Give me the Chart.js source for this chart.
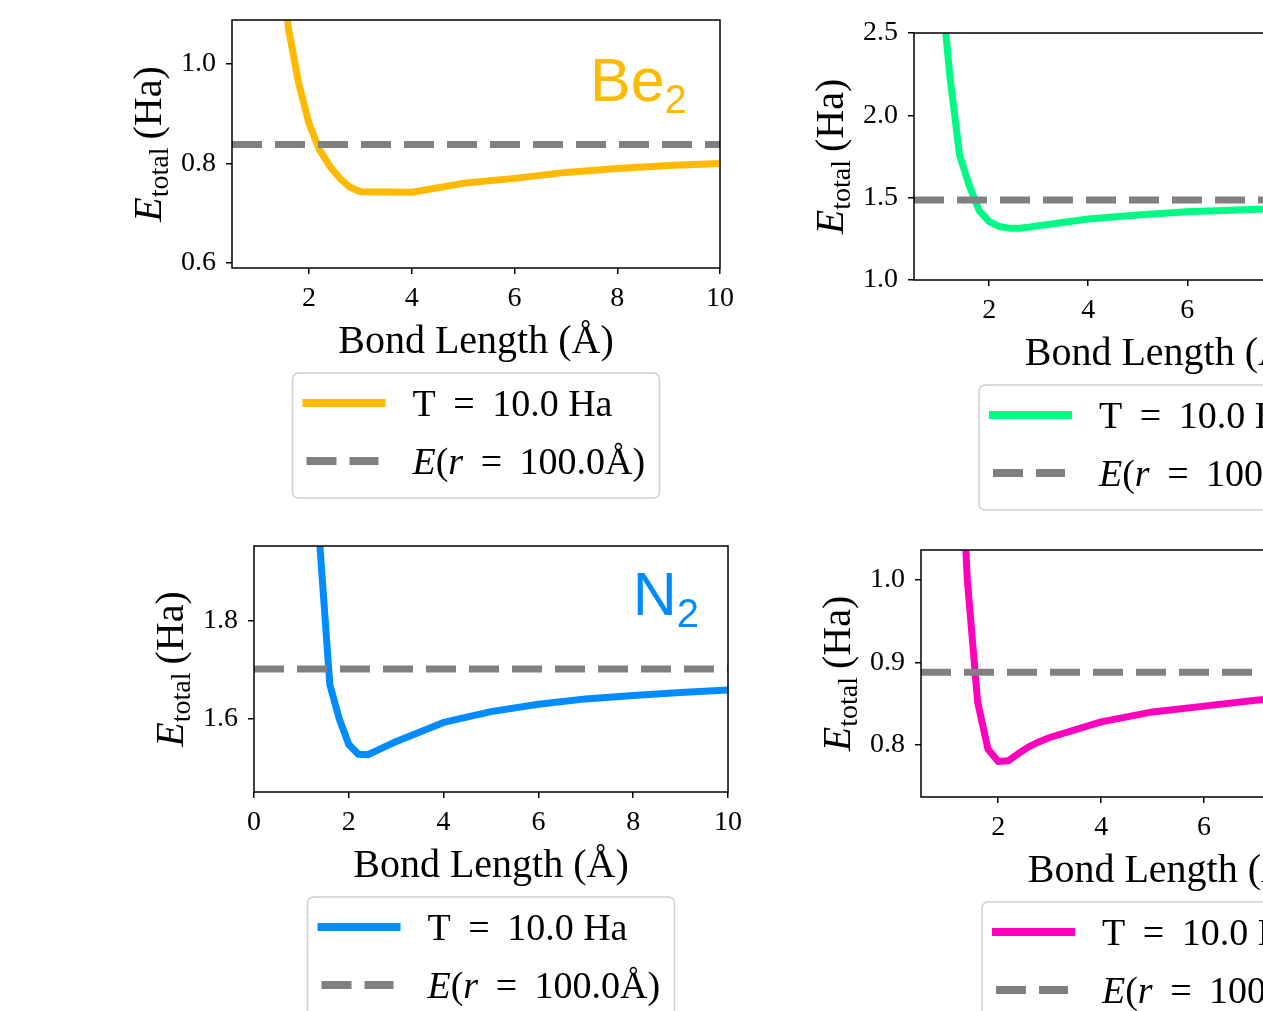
<!DOCTYPE html>
<html>
<head>
<meta charset="utf-8">
<script src="https://cdn.jsdelivr.net/npm/chart.js@4.4.1/dist/chart.umd.min.js"></script>
<style>
  html, body { margin: 0; padding: 0; background: #fff; overflow: hidden; }
  #page { position: relative; width: 1263px; height: 1011px; overflow: hidden; }
  canvas { position: absolute; }
</style>
</head>
<body>
<div id="page">
  <canvas id="be2" width="760" height="515" style="left:0;top:-10px"></canvas>
  <canvas id="green" width="780" height="520" style="left:700px;top:0"></canvas>
  <canvas id="n2" width="760" height="501" style="left:0;top:510px"></canvas>
  <canvas id="pink" width="780" height="501" style="left:700px;top:510px"></canvas>
</div>
<script>
// bond lengths (Angstrom), shared by all four molecules
const bondLengths = [1.0, 1.2, 1.4, 1.6, 1.8, 2.0, 2.2, 2.4, 2.6, 2.8, 3.0, 4, 5, 6, 7, 8, 9, 10];

// total energies (Ha) at T = 10.0 Ha
const be2Energy   = [1.75, 1.45, 1.30, 1.07, 0.96, 0.88, 0.828, 0.795, 0.770, 0.752, 0.743, 0.742, 0.760, 0.770, 0.782, 0.790, 0.796, 0.800];
const greenEnergy = [2.90, 2.25, 1.76, 1.57, 1.42, 1.355, 1.325, 1.315, 1.314, 1.320, 1.330, 1.370, 1.395, 1.415, 1.425, 1.435, 1.440, 1.445];
const n2Energy    = [2.60, 2.30, 1.94, 1.67, 1.60, 1.548, 1.528, 1.527, 1.536, 1.545, 1.554, 1.593, 1.615, 1.630, 1.641, 1.648, 1.654, 1.659];
const pinkEnergy  = [1.50, 1.25, 1.00, 0.852, 0.795, 0.780, 0.781, 0.790, 0.798, 0.804, 0.809, 0.828, 0.840, 0.847, 0.854, 0.859, 0.863, 0.866];

// E(r = 100.0 A) reference levels
const be2Ref = 0.838;
const greenRef = 1.486;
const n2Ref = 1.702;
const pinkRef = 0.888;

// tick labels
const be2XTicks = [2, 4, 6, 8, 10];
const be2YTicks = [0.6, 0.8, 1.0];
const greenXTicks = [2, 4, 6, 8, 10];
const greenYTicks = [1.0, 1.5, 2.0, 2.5];
const n2XTicks = [0, 2, 4, 6, 8, 10];
const n2YTicks = [1.6, 1.8];
const pinkXTicks = [2, 4, 6, 8, 10];
const pinkYTicks = [0.8, 0.9, 1.0];

const seriesLabel = 'T = 10.0 Ha';
const refLabel = 'E(r = 100.0Å)';
const xTitle = 'Bond Length (Å)';

const SERIF = '"Liberation Serif", "DejaVu Serif", serif';
const SANS = '"Liberation Sans", "DejaVu Sans", sans-serif';

function drawParts(ctx, parts, x, y) {
  parts.forEach(p => {
    ctx.font = p.font;
    ctx.fillText(p.t, x, y + (p.dy || 0));
    x += ctx.measureText(p.t).width + (p.gap || 0);
  });
}

function partsWidth(ctx, parts) {
  let w = 0;
  parts.forEach(p => { ctx.font = p.font; w += ctx.measureText(p.t).width + (p.gap || 0); });
  return w;
}

// frame, rotated y title, molecule name and boxed legend
const panelPlugin = {
  id: 'panel',
  afterDatasetsDraw(chart) {
    const a = chart.chartArea, ctx = chart.ctx;
    ctx.save();
    ctx.strokeStyle = '#000';
    ctx.lineWidth = 1.5;
    ctx.strokeRect(a.left, a.top, a.right - a.left, a.bottom - a.top);
    ctx.restore();
  },
  afterDraw(chart, args, opts) {
    const a = chart.chartArea, ctx = chart.ctx;

    // y title: E_total (Ha)
    ctx.save();
    ctx.fillStyle = '#000';
    ctx.textBaseline = 'alphabetic';
    ctx.translate(a.left - 71, (a.top + a.bottom) / 2);
    ctx.rotate(-Math.PI / 2);
    const yParts = [
      { t: 'E', font: 'italic 40px ' + SERIF },
      { t: 'total', font: '28px ' + SERIF, dy: 7, gap: 8 },
      { t: '(Ha)', font: '40px ' + SERIF }
    ];
    drawParts(ctx, yParts, -partsWidth(ctx, yParts) / 2, 0);
    ctx.restore();

    // molecule name
    if (opts.name) {
      ctx.save();
      ctx.fillStyle = opts.color;
      ctx.textBaseline = 'alphabetic';
      const nParts = [
        { t: opts.name, font: '61px ' + SANS },
        { t: opts.sub, font: '40px ' + SANS, dy: 12 }
      ];
      const rx = a.left + opts.fx * (a.right - a.left);
      const by = a.bottom - opts.fy * (a.bottom - a.top);
      drawParts(ctx, nParts, rx - partsWidth(ctx, nParts), by);
      ctx.restore();
    }

    // legend
    const w = 367, h = 125;
    const x0 = (a.left + a.right) / 2 - w / 2;
    const y0 = a.bottom + 105;
    ctx.save();
    ctx.beginPath();
    ctx.roundRect(x0, y0, w, h, 6);
    ctx.fillStyle = 'rgba(255,255,255,0.8)';
    ctx.fill();
    ctx.strokeStyle = '#d0d0d0';
    ctx.lineWidth = 1.5;
    ctx.stroke();
    chart.data.datasets.forEach((ds, i) => {
      const ry = y0 + 30 + i * 58;
      ctx.beginPath();
      ctx.strokeStyle = ds.borderColor;
      ctx.lineWidth = ds.borderWidth + 1;
      ctx.lineCap = 'butt';
      if (ds.borderDash) {
        ctx.setLineDash(ds.borderDash);
        ctx.moveTo(x0 + 14, ry);
        ctx.lineTo(x0 + 86, ry);
      } else {
        ctx.setLineDash([]);
        ctx.moveTo(x0 + 10, ry);
        ctx.lineTo(x0 + 93, ry);
      }
      ctx.stroke();
      ctx.setLineDash([]);
      ctx.fillStyle = '#000';
      ctx.textBaseline = 'alphabetic';
      const parts = ds.label.split('').map(ch => ({
        t: ch,
        font: (ds.italic.includes(ch) ? 'italic ' : '') + '38px ' + SERIF,
        gap: ch === ' ' && ds.label.indexOf(' = ') >= 0 ? 0 : 0
      }));
      // wider spacing around the equals sign, as in math mode
      parts.forEach((p, k) => {
        if (p.t === '=' || (parts[k + 1] && parts[k + 1].t === '=')) p.gap = 8;
      });
      drawParts(ctx, parts, x0 + 120, ry + 13);
    });
    ctx.restore();
  }
};

function buildChart(cfg) {
  const canvas = document.getElementById(cfg.id);
  const W = canvas.width, H = canvas.height;
  const xH = 98;
  const tickFont = { family: SERIF, size: 28 };
  const grid = {
    drawOnChartArea: false, drawTicks: true, tickLength: 6,
    color: '#000', tickColor: '#000', tickWidth: 1.5, lineWidth: 1.5
  };
  return new Chart(canvas, {
    type: 'line',
    data: {
      datasets: [
        {
          label: seriesLabel, italic: '',
          data: bondLengths.map((x, i) => ({ x: x, y: cfg.energy[i] })),
          borderColor: cfg.color, borderWidth: 7, pointRadius: 0, tension: 0,
          clip: 0, borderJoinStyle: 'round', order: 1
        },
        {
          label: refLabel, italic: 'Er',
          data: [{ x: cfg.xMin, y: cfg.ref }, { x: cfg.xMax, y: cfg.ref }],
          borderColor: '#808080', borderWidth: 7, borderDash: [30, 13],
          pointRadius: 0, clip: 0, order: 0
        }
      ]
    },
    options: {
      responsive: false,
      animation: false,
      devicePixelRatio: 1,
      layout: {
        padding: { left: 0, top: cfg.area[1], right: W - cfg.area[2], bottom: H - cfg.area[3] - xH }
      },
      plugins: {
        legend: { display: false },
        tooltip: { enabled: false },
        panel: cfg.label || {}
      },
      scales: {
        x: {
          type: 'linear', min: cfg.xMin, max: cfg.xMax,
          afterBuildTicks: s => { s.ticks = cfg.xTicks.map(v => ({ value: v })); },
          afterFit: s => { s.height = xH; },
          grid: grid,
          border: { display: false },
          ticks: { font: tickFont, color: '#000', padding: 8, maxRotation: 0, callback: v => String(v) },
          title: { display: true, text: xTitle, font: { family: SERIF, size: 40 }, color: '#000', padding: 0 }
        },
        y: {
          type: 'linear', min: cfg.yMin, max: cfg.yMax,
          afterBuildTicks: s => { s.ticks = cfg.yTicks.map(v => ({ value: v })); },
          afterFit: s => { s.width = cfg.area[0]; },
          grid: grid,
          border: { display: false },
          ticks: { font: tickFont, color: '#000', padding: 10, callback: v => v.toFixed(1) }
        }
      }
    },
    plugins: [panelPlugin]
  });
}

buildChart({
  id: 'be2', area: [232, 30, 720, 278], energy: be2Energy, ref: be2Ref, color: '#FFB900',
  xMin: 0.5, xMax: 10, yMin: 0.59, yMax: 1.088, xTicks: be2XTicks, yTicks: be2YTicks,
  label: { name: 'Be', sub: '2', color: '#FFB900', fx: 0.932, fy: 0.673 }
});
buildChart({
  id: 'green', area: [214, 33, 711, 280], energy: greenEnergy, ref: greenRef, color: '#00FA85',
  xMin: 0.48, xMax: 10.52, yMin: 1.0, yMax: 2.5, xTicks: greenXTicks, yTicks: greenYTicks
});
buildChart({
  id: 'n2', area: [254, 36, 728, 282], energy: n2Energy, ref: n2Ref, color: '#008CFF',
  xMin: 0, xMax: 10, yMin: 1.451, yMax: 1.953, xTicks: n2XTicks, yTicks: n2YTicks,
  label: { name: 'N', sub: '2', color: '#008CFF', fx: 0.939, fy: 0.72 }
});
buildChart({
  id: 'pink', area: [221, 40, 710, 287], energy: pinkEnergy, ref: pinkRef, color: '#FF00BE',
  xMin: 0.5, xMax: 10, yMin: 0.737, yMax: 1.036, xTicks: pinkXTicks, yTicks: pinkYTicks
});
</script>
</body>
</html>
